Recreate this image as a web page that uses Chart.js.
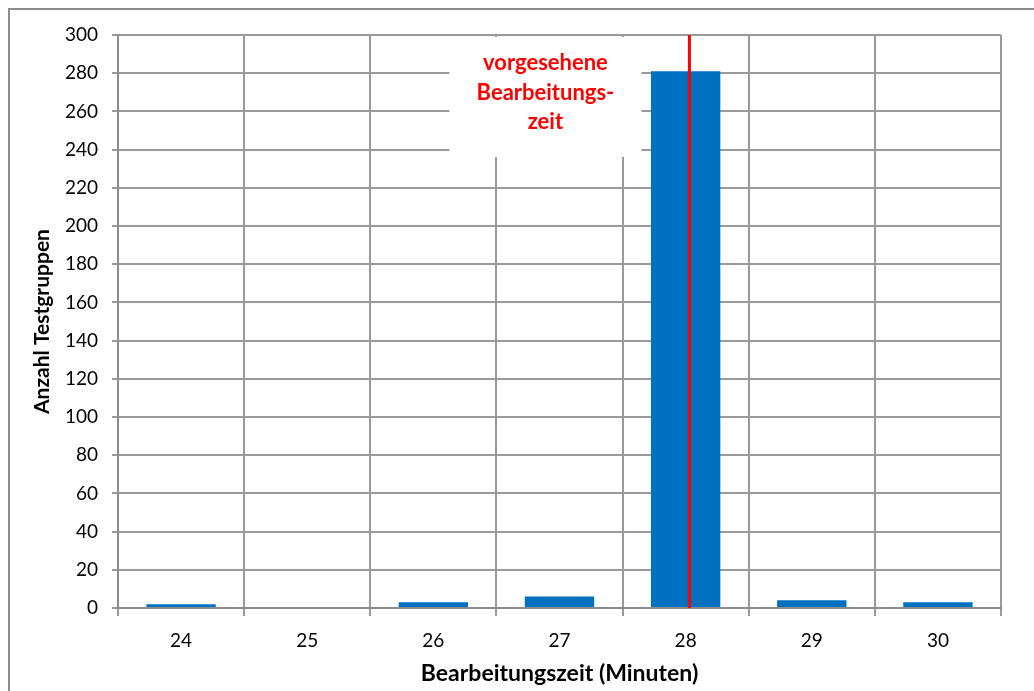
<!DOCTYPE html>
<html>
<head>
<meta charset="utf-8">
<script src="https://cdn.jsdelivr.net/npm/chart.js@4/dist/chart.umd.min.js"></script>
<style>
  html, body { margin: 0; padding: 0; background: #fff; overflow: hidden; }
  canvas { display: block; }
</style>
</head>
<body>
<canvas id="timeChart" width="1034" height="691"></canvas>
<script>
// Data
const minutes = ['24', '25', '26', '27', '28', '29', '30'];
const groupCounts = [2, 0, 3, 6, 281, 4, 3];
const Y_MIN = 0;
const Y_MAX = 300;
const Y_STEP = 20;
const plannedMinutes = 28.03; // planned working time marker
const plannedLabel = ['vorgesehene', 'Bearbeitungs-', 'zeit'];

const FONT = 'Lato, "Open Sans", sans-serif';
const GRID = '#9a9a9a';
const BAR = '#0070c0';
const MARK = '#ff0000';

// Outer frame round the whole chart
const framePlugin = {
    id: 'frame',
    beforeDraw(chart) {
        const ctx = chart.ctx;
        ctx.save();
        ctx.strokeStyle = '#8c8c8c';
        ctx.lineWidth = 2;
        ctx.strokeRect(9, 9, chart.width + 20, chart.height + 20);
        ctx.restore();
    }
};

// White text box with the red label, drawn over the grid
const labelBoxPlugin = {
    id: 'labelBox',
    beforeDatasetsDraw(chart) {
        const { ctx, chartArea, scales } = chart;
        const x = scales.x;
        const markX = x.getPixelForValue(plannedMinutes - 24);
        const right = markX - 48;
        const left = right - 192;
        const top = chartArea.top + 2;
        ctx.save();
        ctx.fillStyle = '#fff';
        ctx.fillRect(left, top, right - left, 120);
        ctx.fillStyle = MARK;
        ctx.font = 'bold 22px ' + FONT;
        ctx.textAlign = 'center';
        ctx.textBaseline = 'middle';
        const cx = (left + right) / 2;
        plannedLabel.forEach((line, i) => {
            ctx.fillText(line, cx, top + 26 + i * 29.5);
        });
        ctx.restore();
    },
    afterDatasetsDraw(chart) {
        const { ctx, chartArea, scales } = chart;
        const markX = scales.x.getPixelForValue(plannedMinutes - 24);
        ctx.save();
        ctx.strokeStyle = MARK;
        ctx.lineWidth = 3;
        ctx.beginPath();
        ctx.moveTo(markX, chartArea.top);
        ctx.lineTo(markX, chartArea.bottom);
        ctx.stroke();
        ctx.restore();
    }
};

const ctx = document.getElementById('timeChart').getContext('2d');
const chart = new Chart(ctx, {
    type: 'bar',
    data: {
        labels: minutes,
        datasets: [{
            label: 'Anzahl Testgruppen',
            data: groupCounts,
            backgroundColor: BAR,
            borderWidth: 0,
            barPercentage: 0.55,
            categoryPercentage: 1.0
        }]
    },
    options: {
        responsive: false,
        animation: false,
        layout: {
            padding: { top: 35, right: 33, left: 30, bottom: 4 }
        },
        plugins: {
            legend: { display: false },
            tooltip: { enabled: false }
        },
        scales: {
            x: {
                grid: {
                    offset: true,
                    color: GRID,
                    lineWidth: 2,
                    tickLength: 8
                },
                border: { color: '#8c8c8c', width: 2 },
                ticks: {
                    color: '#000',
                    font: { family: FONT, size: 19 },
                    padding: 13
                },
                title: {
                    display: true,
                    text: 'Bearbeitungszeit (Minuten)',
                    color: '#000',
                    font: { family: FONT, size: 23, weight: 'bold' },
                    padding: { top: 0, bottom: 0 }
                },
                afterFit(scale) { scale.height = 79; }
            },
            y: {
                min: Y_MIN,
                max: Y_MAX,
                grid: {
                    color: GRID,
                    lineWidth: 2,
                    tickLength: 6
                },
                border: { color: '#8c8c8c', width: 2 },
                ticks: {
                    stepSize: Y_STEP,
                    color: '#000',
                    font: { family: FONT, size: 19 },
                    padding: 14
                },
                title: {
                    display: true,
                    text: 'Anzahl Testgruppen',
                    color: '#000',
                    font: { family: FONT, size: 21, weight: 'bold' },
                    padding: { top: 0, bottom: 0 }
                },
                afterFit(scale) { scale.width = 88; }
            }
        }
    },
    plugins: [framePlugin, labelBoxPlugin]
});
</script>
</body>
</html>
